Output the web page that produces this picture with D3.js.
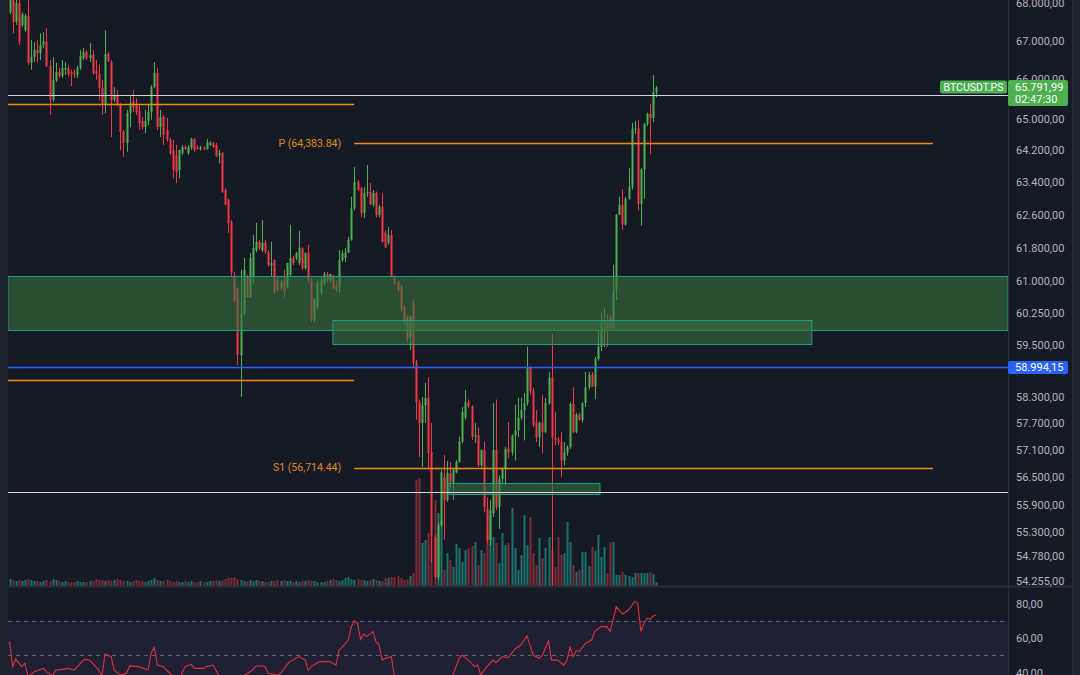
<!DOCTYPE html>
<html>
<head>
<meta charset="utf-8">
<script src="https://cdn.jsdelivr.net/npm/d3@7"></script>
<style>
  html, body { margin: 0; padding: 0; background: #161a25; }
  svg { display: block; font-family: Roboto, "Noto Sans", sans-serif; }
</style>
</head>
<body>
<svg id="chart" width="1080" height="675"></svg>
<script>
// candles as [open, high, low, close], one per bar, oldest first
const candles = [
  [67760,68350,67710,68210],[68210,68290,67200,67500],[67500,68080,67420,68000],[68000,68080,66890,66970],[67420,67760,67360,67710],
  [67280,67710,67230,67660],[67660,68080,66380,66430],[66430,67020,66250,66580],[66580,66970,66450,66760],[66760,67020,66450,66680],
  [66680,67200,66500,66890],[66890,67230,66810,66990],[66990,67330,66320,66350],[66350,66500,65090,65470],[65470,66580,65420,65980],
  [65980,66430,65930,66190],[66190,66300,66040,66090],[66090,66500,66040,66300],[66250,66450,66120,66300],[66300,66380,66090,66140],
  [66190,66250,65830,66140],[66170,66250,66040,66120],[66120,66350,66040,66300],[66300,66760,66250,66610],[66550,66810,66500,66710],
  [66710,66760,66500,66550],[66550,66940,66450,66630],[66630,66760,66120,66170],[66220,66500,65990,66140],[66140,66380,65470,65780],
  [65780,65990,65090,65350],[65350,67280,65140,66660],[66660,66710,66450,66480],[66450,66500,64530,65470],[65470,65800,65420,65600],
  [65600,65730,65320,65350],[65370,65390,64210,64660],[64660,64710,64030,64380],[64380,65220,64160,65140],[65140,65600,64780,65390],
  [65440,65730,65170,65290],[65320,65520,65090,65170],[65190,65340,64710,64880],[64940,65040,64710,64780],[64780,65220,64630,64940],
  [64940,65340,64830,65170],[65170,65850,64970,65800],[65800,66450,65780,66170],[66170,66300,64710,64780],[64780,65220,64530,65040],
  [65040,65090,64330,64580],[64710,65020,64410,64460],[64460,64510,64080,64130],[64210,64460,63500,63700],[64080,64330,63380,63650],
  [63700,64210,63500,64210],[64130,64330,64080,64280],[64280,64330,64210,64230],[64130,64330,64080,64280],[64260,64510,64210,64480],
  [64480,64510,64160,64210],[64280,64330,64210,64230],[64230,64310,64190,64270],[64270,64300,64200,64220],[64230,64480,64210,64410],
  [64330,64430,64310,64380],[64380,64410,64260,64280],[64330,64380,64030,64060],[64060,64210,63870,64130],[64130,64150,63140,63160],
  [63210,63260,62840,62850],[62970,62990,62160,62400],[62420,62470,61100,61200],[61100,61220,60500,60550],[60830,60860,59030,59260],
  [59260,61270,58300,60240],[60240,61550,60190,61270],[61100,61150,60600,60620],[60620,61670,60600,61550],[61100,62110,60950,61790],
  [61740,62400,61690,61940],[61940,61990,61740,61790],[61740,62470,61690,61920],[61920,61990,61650,61690],[61690,61740,61340,61380],
  [61380,61940,61100,61430],[61500,61520,60710,60720],[61020,61080,60740,60790],[60830,61020,60790,60970],[61020,61270,60620,60720],
  [60860,61430,60830,61430],[61150,62350,61100,61550],[61550,61600,61380,61430],[61550,61700,61500,61670],[61430,62210,61380,61790],
  [61790,61810,61270,61310],[61310,61690,61270,61670],[61670,61870,60950,61020],[61020,61080,60030,60080],[60080,60600,60030,60550],
  [60390,61020,60320,60950],[60720,61080,60670,61020],[60950,61220,60900,61170],[61170,61220,60970,61020],[61020,61150,60970,61170],
  [61100,61150,60790,60830],[60880,61020,60740,60790],[60860,61740,60720,61500],[61500,61740,61460,61670],[61560,61790,61460,61690],
  [61690,62060,61670,61990],[61990,63040,61970,62760],[62760,63780,62710,63410],[63410,63460,63190,63210],[63260,63280,62540,62640],
  [62640,63280,62520,63140],[63140,63830,63040,63160],[63160,63380,62840,62850],[62850,63210,62800,63140],[63140,63170,62540,62590],
  [62590,62840,62540,62800],[62800,63140,61920,61940],[62160,62230,61790,61810],[61920,62300,61870,62110],[62110,62230,61080,61100],
  [61100,61130,60900,60950],[60970,61020,60740,60790],[60860,60900,60260,60320],[60390,60430,59960,60010],[60150,60190,59550,59620],
  [59680,60190,59380,60150],[60480,60550,58990,59080],[59100,59150,57780,58180],[58180,58240,56950,57710],[57710,58300,56730,58110],
  [58110,58620,57710,58280],[58280,58750,56710,57040],[57060,57710,54640,55200],[55200,55240,54310,54340],[54340,55520,54280,55450],
  [55450,56660,55410,56610],[56500,56990,55140,56000],[56000,56860,55960,56590],[56590,56840,56290,56380],[56380,56680,56000,56660],
  [56610,56880,56590,56840],[56840,57400,56820,57290],[57290,58070,57260,57960],[57830,58460,57780,58180],[58180,58240,58040,58090],
  [58090,58110,57330,57400],[57400,57710,57260,57440],[57440,57610,56730,56770],[56770,57120,56710,57100],[57100,57290,55730,55840],
  [55820,56060,55060,55130],[55130,56000,55020,55780],[55710,58160,55630,57100],[57100,58240,55780,55840],[55840,56540,55370,56460],
  [56460,56720,56380,56700],[56700,57170,56320,57130],[57130,57730,56920,57050],[57050,57450,56980,57430],[57430,58120,56870,57540],
  [57540,58280,57390,57830],[57830,58280,57780,58000],[58000,58390,57320,58160],[58160,59460,58100,58980],[58980,59010,58360,58430],
  [58430,58510,57620,57670],[57720,58000,57280,57390],[57390,57740,57170,57720],[57720,58350,57030,57510],[57510,58280,57480,58160],
  [58160,58870,58120,58740],[58740,59760,54140,57380],[57380,57960,57210,57330],[57330,57400,57210,57280],[57280,57510,56500,56870],
  [56870,57280,56760,57050],[57050,57210,56980,57170],[57170,58180,57130,58140],[58140,58520,57480,57510],[57510,57940,57480,57890],
  [57890,57940,57770,57780],[57780,58180,57720,58160],[58160,58870,58070,58520],[58520,58870,58470,58810],[58810,58870,58530,58540],
  [58540,59220,58250,59170],[59170,59820,59130,59450],[59450,60260,59350,60030],[60030,60350,59450,60060],[60060,60220,59450,59820],
  [60150,60220,59870,59890],[59890,61390,59850,60760],[60760,62610,60550,62600],[62600,63040,62590,62840],[62840,63230,62240,62360],
  [62360,63040,62340,62990],[62990,63750,62970,63290],[63290,64890,63220,64740],[64740,64940,64610,64750],[64750,64960,62710,62870],
  [62870,63750,62340,63720],[63720,64890,62990,64860],[64860,65150,64810,65120],[65120,65380,64100,65010],[65010,66110,64900,65670],
  [65670,65830,65540,65791.99]
];

// volume per bar (thousands)
const volumes = [
  7,6,5,6,5,6,7,6,5,5, 4,5,6,5,7,6,5,4,5,4, 4,4,5,4,4,4,5,5,7,6, 6,5,6,5,6,7,6,5,5,4,
  5,6,5,5,4,5,6,8,6,5, 5,6,5,4,5,4,4,5,4,5, 4,4,5,4,4,5,5,6,5,6, 7,8,8,9,7,6,5,5,6,5,
  6,5,5,4,4,5,5,6,5,6, 5,5,4,5,4,5,5,6,5,5, 4,4,4,5,6,7,6,5,6,8, 9,7,6,7,6,6,5,6,7,6,
  5,5,8,8,9,9,10,8,6,7, 10,13,106,108,43,46,53,48,86,73, 66,16,33,26,19,42,38,24,36,38,
  40,44,21,36,33,54,71,49,43,23, 53,41,43,78,38,16,31,71,41,69, 33,21,48,28,38,49,36,19,49,31,
  33,64,44,21,14,16,34,34,20,39, 35,51,29,39,13,44,44,11,11,14, 11,10,9,13,13,13,13,13,14,12,
  4
];

// RSI(14) readings as [bar index, value]
const rsiPoints = [
  [0,57.9],[1,43.4],[2,47.8],[4,43.4],[5,45.3],[6,37.5],[8,40.5],[11,42.4],[12,40.5],[14,38],
  [15,41.4],[17,41.8],[19,42.4],[21,41.4],[24,47.2],[25,47.6],[26,47.2],[28,43.4],[29,41.4],[30,37.5],
  [31,50.7],[33,49.2],[34,41.4],[36,38.5],[38,39.5],[39,43.8],[42,43.4],[45,41.4],[46,51.5],[47,54.6],
  [48,44.3],[50,43.4],[51,41.4],[53,38],[55,36],[57,43.4],[59,44.7],[60,42.4],[63,42.4],[64,43.4],
  [66,44.3],[67,41.4],[68,38],[71,36],[75,37],[79,41.4],[80,43.8],[82,43.8],[83,43.4],[84,39.5],
  [87,38.5],[88,39.5],[90,44.3],[91,46.3],[93,48.2],[94,49.2],[96,47.2],[97,41.4],[98,43.4],[100,45.7],
  [101,46.3],[104,46.3],[105,45.3],[106,44.3],[107,53],[108,54.6],[110,58.8],[111,66.6],[112,69.9],[113,68.5],
  [114,59.2],[115,62.3],[116,60.8],[118,63.7],[119,57.9],[120,55.9],[121,47.2],[122,48.2],[124,49.2],[125,37],
  [130,30],[135,28],[140,33],[144,38.6],[146,48.2],[147,50.1],[149,47.2],[151,43.4],[152,44.3],[153,38.6],
  [155,43.4],[157,47.2],[158,45.7],[160,49.2],[162,48.6],[164,53.4],[166,55.9],[168,61.2],[169,55.9],[170,50.1],
  [172,48.2],[173,50.1],[175,58.3],[176,47.2],[178,47.2],[180,44.3],[181,47.2],[182,54.6],[183,49.2],[184,52.6],
  [185,52.1],[187,56.9],[189,58.8],[190,63.7],[192,66.6],[194,66.6],[195,63.7],[197,78.1],[199,73.9],[201,76.2],
  [203,81],[204,80.1],[205,63.7],[206,68.5],[207,71.4],[208,70.8],[209,72.8],[210,73.3]
];

const priceTicks = [68000, 67000, 66000, 65000, 64200, 63400, 62600, 61800, 61000, 60250,
  59500, 58300, 57700, 57100, 56500, 55900, 55300, 54780, 54255];
const rsiTicks = [80, 60, 40];
const rsiBands = [70, 50];

// horizontal levels, extents in bar index
const levels = [
  { price: 65600, from: -0.5, to: 324.2, kind: "hline" },
  { price: 65365, from: -0.5, to: 111.9, kind: "pivot" },
  { price: 64383.84, from: 111.9, to: 299.8, kind: "pivot", label: "P (64,383.84)" },
  { price: 58994.15, from: -0.5, to: 324.2, kind: "alert" },
  { price: 58690, from: -0.5, to: 111.9, kind: "pivot" },
  { price: 56714.44, from: 111.9, to: 299.8, kind: "pivot", label: "S1 (56,714.44)" },
  { price: 56175, from: -0.5, to: 324.2, kind: "hline" }
];

// supply/demand boxes
const zones = [
  { top: 61120, bottom: 59844, from: -0.5, to: 324.2 },
  { top: 60078, bottom: 59518, from: 105.0, to: 260.5 },
  { top: 56372, bottom: 56130, from: 142.7, to: 191.7 }
];

const symbol = "BTCUSDT.PS";
const countdown = "02:47:30";

const W = 1080, H = 675;
const axisX = 1008;
const mainBottom = 586;

const svg = d3.select("#chart");
const nf = d3.formatLocale({ decimal: ",", thousands: ".", grouping: [3], currency: ["", ""] }).format(",.2f");

const x = d3.scaleLinear().domain([0, candles.length - 1]).range([9.5, 656.3]);
const y = d3.scaleLog().domain([54255, 68000]).range([581, 3]);
const yVol = d3.scaleLinear().domain([0, 100]).range([mainBottom, mainBottom - 100]);
const yRsi = d3.scaleLinear().domain([40, 80]).range([672.5, 603.5]);

const UP = "#4caf50", DOWN = "#f23645";
const levelColor = { hline: "#d1d4dc", pivot: "#f08a12", alert: "#2962ff" };

// backgrounds
svg.append("rect").attr("width", W).attr("height", H).attr("fill", "#161a25");
svg.append("rect").attr("x", 0).attr("width", 8).attr("height", H).attr("fill", "#1f232e");
svg.append("rect").attr("x", 1072).attr("width", 8).attr("height", H).attr("fill", "#1f232e");

const defs = svg.append("defs");
defs.append("clipPath").attr("id", "clipMain")
  .append("rect").attr("x", 8).attr("y", 0).attr("width", axisX - 8).attr("height", mainBottom);
defs.append("clipPath").attr("id", "clipRsi")
  .append("rect").attr("x", 8).attr("y", mainBottom + 1).attr("width", axisX - 8).attr("height", H - mainBottom);

const main = svg.append("g").attr("clip-path", "url(#clipMain)");

// volume
main.append("g").selectAll("rect")
  .data(volumes)
  .join("rect")
  .attr("x", (d, i) => Math.round(x(i)) - 0.5)
  .attr("y", d => yVol(d))
  .attr("width", 2)
  .attr("height", d => mainBottom - yVol(d))
  .attr("fill", (d, i) => candles[i][3] >= candles[i][0] ? "#1b7a72" : "#8a2d37")
  .attr("opacity", 0.9);

// candles
const candleG = main.append("g");
candleG.selectAll("rect.wick")
  .data(candles)
  .join("rect")
  .attr("class", "wick")
  .attr("x", (d, i) => Math.round(x(i)))
  .attr("y", d => y(d[1]))
  .attr("width", 1)
  .attr("height", d => Math.max(1, y(d[2]) - y(d[1])))
  .attr("fill", d => d[3] >= d[0] ? UP : DOWN);

candleG.selectAll("rect.body")
  .data(candles)
  .join("rect")
  .attr("class", "body")
  .attr("x", (d, i) => Math.round(x(i)) - 0.5)
  .attr("y", d => y(Math.max(d[0], d[3])))
  .attr("width", 2)
  .attr("height", d => Math.max(1, Math.abs(y(d[0]) - y(d[3]))))
  .attr("fill", d => d[3] >= d[0] ? UP : DOWN);

// zones
main.append("g").selectAll("rect")
  .data(zones)
  .join("rect")
  .attr("x", d => x(d.from))
  .attr("y", d => Math.round(y(d.top)) + 0.5)
  .attr("width", d => x(d.to) - x(d.from))
  .attr("height", d => Math.round(y(d.bottom)) - Math.round(y(d.top)))
  .attr("fill", "rgba(58,112,64,0.6)")
  .attr("stroke", "#16a085")
  .attr("stroke-width", 1);

// levels
main.append("g").selectAll("line")
  .data(levels)
  .join("line")
  .attr("x1", d => x(d.from))
  .attr("x2", d => x(d.to))
  .attr("y1", d => Math.round(y(d.price)) + 0.5)
  .attr("y2", d => Math.round(y(d.price)) + 0.5)
  .attr("stroke", d => levelColor[d.kind])
  .attr("stroke-width", d => d.kind === "hline" ? 1 : 1.5);

main.append("g").selectAll("text")
  .data(levels.filter(d => d.label))
  .join("text")
  .attr("x", d => x(d.from) - 13)
  .attr("y", d => y(d.price))
  .attr("dy", "0.35em")
  .attr("text-anchor", "end")
  .attr("font-size", 10.5)
  .attr("fill", "#e08a1e")
  .text(d => d.label);

// RSI pane
const rsiG = svg.append("g").attr("clip-path", "url(#clipRsi)");
rsiG.append("rect")
  .attr("x", 8).attr("width", axisX - 8)
  .attr("y", yRsi(70)).attr("height", H - yRsi(70))
  .attr("fill", "rgba(126,87,194,0.1)");
rsiG.selectAll("line.band")
  .data(rsiBands)
  .join("line")
  .attr("class", "band")
  .attr("x1", 8).attr("x2", axisX)
  .attr("y1", d => Math.round(yRsi(d)) + 0.5)
  .attr("y2", d => Math.round(yRsi(d)) + 0.5)
  .attr("stroke", "#787b86")
  .attr("stroke-opacity", 0.7)
  .attr("stroke-dasharray", "4,4");
rsiG.append("path")
  .datum(rsiPoints)
  .attr("fill", "none")
  .attr("stroke", "#e0303f")
  .attr("stroke-width", 1.1)
  .attr("d", d3.line().x(d => x(d[0])).y(d => yRsi(d[1])));

// separators
svg.append("line")
  .attr("x1", 8).attr("x2", 1072)
  .attr("y1", mainBottom + 0.5).attr("y2", mainBottom + 0.5)
  .attr("stroke", "#2a2e39").attr("stroke-width", 2);
svg.append("line")
  .attr("x1", axisX + 0.5).attr("x2", axisX + 0.5)
  .attr("y1", 0).attr("y2", H)
  .attr("stroke", "#2a2e39");
svg.append("line")
  .attr("x1", 1072.5).attr("x2", 1072.5)
  .attr("y1", 0).attr("y2", H)
  .attr("stroke", "#2a2e39");

// price axis
const priceAxis = svg.append("g")
  .attr("transform", `translate(${axisX},0)`)
  .call(d3.axisRight(y).tickValues(priceTicks).tickFormat(nf).tickSize(0).tickPadding(8));
priceAxis.select(".domain").remove();
priceAxis.selectAll("text")
  .attr("fill", "#b2b5be")
  .style("font-size", "11px")
  .style("font-family", "Roboto, 'Noto Sans', sans-serif");

const rsiAxis = svg.append("g")
  .attr("transform", `translate(${axisX},0)`)
  .call(d3.axisRight(yRsi).tickValues(rsiTicks).tickFormat(nf).tickSize(0).tickPadding(8));
rsiAxis.select(".domain").remove();
rsiAxis.selectAll("text")
  .attr("fill", "#b2b5be")
  .style("font-size", "11px")
  .style("font-family", "Roboto, 'Noto Sans', sans-serif");

// last price label
const last = candles[candles.length - 1][3];
const yl = Math.round(y(last));
svg.append("rect")
  .attr("x", axisX).attr("y", yl - 7).attr("width", 60).attr("height", 26)
  .attr("rx", 2).attr("fill", UP);
svg.append("text")
  .attr("x", axisX + 7).attr("y", yl).attr("dy", "0.35em")
  .attr("font-size", 11).attr("fill", "#ffffff").text(nf(last));
svg.append("text")
  .attr("x", axisX + 7).attr("y", yl + 12).attr("dy", "0.35em")
  .attr("font-size", 11).attr("fill", "#ffffff").text(countdown);

svg.append("rect")
  .attr("x", 940).attr("y", yl - 6.5).attr("width", 67).attr("height", 13)
  .attr("rx", 2).attr("fill", UP);
svg.append("text")
  .attr("x", 973.5).attr("y", yl).attr("dy", "0.35em")
  .attr("text-anchor", "middle")
  .attr("font-size", 10.5).attr("fill", "#ffffff").text(symbol);

// alert line label
levels.filter(d => d.kind === "alert").forEach(d => {
  const ya = Math.round(y(d.price));
  svg.append("rect")
    .attr("x", axisX).attr("y", ya - 6).attr("width", 60).attr("height", 13)
    .attr("rx", 2).attr("fill", levelColor.alert);
  svg.append("text")
    .attr("x", axisX + 7).attr("y", ya + 0.5).attr("dy", "0.35em")
    .attr("font-size", 11).attr("fill", "#ffffff").text(nf(d.price));
});
</script>
</body>
</html>
